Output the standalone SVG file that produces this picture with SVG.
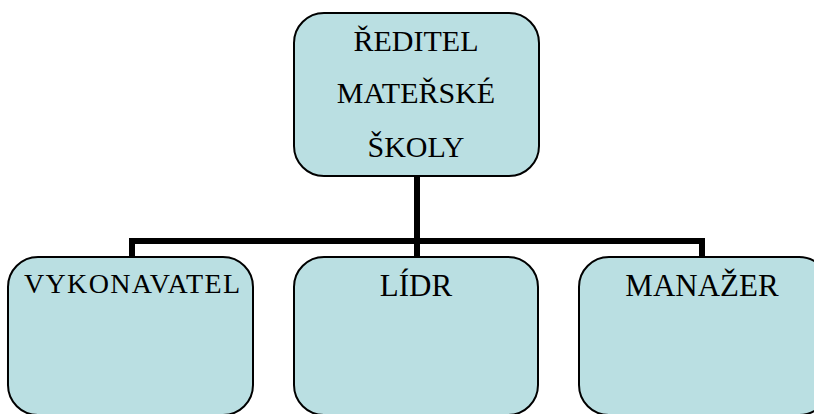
<svg xmlns="http://www.w3.org/2000/svg" width="814" height="414" viewBox="0 0 814 414">
<style>
.box{fill:#BADFE2;stroke:#000;stroke-width:2}
.t{font-family:"Liberation Serif","Times New Roman",serif;font-size:30px;fill:#000;text-anchor:middle}
.b{font-size:31px}
.c{fill:none;stroke:#000;stroke-width:6}
</style>
<rect width="814" height="414" fill="#fff"/>
<g id="connectors">
<path class="c" d="M417 176 V241 M132 257 V241 H702 V257 M417 241 V257"/>
</g>
<g id="reditel">
<rect class="box" x="294" y="13" width="245" height="163" rx="30"/>
<text class="t" x="416" y="51">ŘEDITEL</text>
<text class="t" x="416" y="103">MATEŘSKÉ</text>
<text class="t" x="416" y="157">ŠKOLY</text>
</g>
<g id="vykonavatel">
<rect class="box" x="8" y="257" width="245" height="158" rx="30"/>
<text class="t" x="132" y="293" style="font-size:28px" textLength="216" lengthAdjust="spacing">VYKONAVATEL</text>
</g>
<g id="lidr">
<rect class="box" x="294" y="257" width="244" height="158" rx="30"/>
<text class="t b" x="416" y="296">LÍDR</text>
</g>
<g id="manazer">
<rect class="box" x="579" y="257" width="250" height="158" rx="30"/>
<text class="t b" x="702" y="296">MANAŽER</text>
</g>
</svg>
